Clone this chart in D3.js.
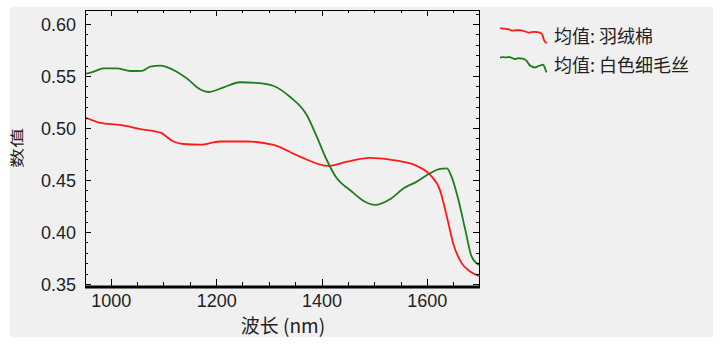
<!DOCTYPE html>
<html>
<head>
<meta charset="utf-8">
<script src="https://cdn.jsdelivr.net/npm/d3@7"></script>
<style>
  body { margin: 0; background: #fff; }
  svg { display: block; font-family: "Noto Sans CJK SC", "Noto Sans", sans-serif; }
</style>
</head>
<body>
<div id="chart"></div>
<script>
/* DATA */
const seriesNames = ["均值: 羽绒棉", "均值: 白色细毛丝"];
const seriesColors = ["#ff1a1a", "#1e7d1e"];

const redWl = [951, 980, 1018, 1056, 1094, 1119, 1138, 1170, 1207, 1258, 1309, 1359, 1413, 1448, 1492, 1543, 1581, 1606, 1625, 1638, 1650, 1666, 1682, 1699];
const redVal = [0.510, 0.505, 0.503, 0.499, 0.4955, 0.487, 0.4846, 0.484, 0.487, 0.487, 0.4837, 0.4724, 0.4635, 0.4676, 0.4712, 0.4686, 0.4635, 0.455, 0.440, 0.4147, 0.389, 0.370, 0.362, 0.3577];

const greenWl = [951, 966, 986, 1011, 1037, 1059, 1075, 1094, 1119, 1144, 1170, 1185, 1214, 1245, 1277, 1309, 1340, 1372, 1391, 1410, 1429, 1454, 1480, 1502, 1530, 1556, 1581, 1606, 1625, 1638, 1647, 1660, 1673, 1685, 1699];
const greenVal = [0.552, 0.554, 0.5574, 0.5574, 0.5548, 0.555, 0.559, 0.560, 0.5558, 0.5478, 0.537, 0.5346, 0.539, 0.544, 0.5433, 0.5404, 0.530, 0.5125, 0.4917, 0.4692, 0.4516, 0.4404, 0.4298, 0.426, 0.4314, 0.442, 0.4484, 0.4564, 0.4606, 0.4612, 0.453, 0.4308, 0.402, 0.3763, 0.3683];

const xTicks = [1000, 1200, 1400, 1600];
const yTicks = [0.35, 0.40, 0.45, 0.50, 0.55, 0.60];

/* CONSTANTS */
const width = 721, height = 347;
const plot = { left: 85, right: 479, top: 10, bottom: 286 };

const svg = d3.select("#chart").append("svg")
  .attr("width", width)
  .attr("height", height);

// gray panel
svg.append("rect")
  .attr("x", 10).attr("y", 7)
  .attr("width", 703).attr("height", 330)
  .attr("fill", "#f0f0f0");

const xScale = d3.scaleLinear().domain([951, 1699]).range([plot.left, plot.right]);
const yScale = d3.scaleLinear().domain([0.348, 0.6135]).range([plot.bottom, plot.top]);

// clip
svg.append("clipPath").attr("id", "clip")
  .append("rect")
  .attr("x", plot.left).attr("y", plot.top)
  .attr("width", plot.right - plot.left).attr("height", plot.bottom - plot.top);

const line = d3.line()
  .x(d => xScale(d[0]))
  .y(d => yScale(d[1]))
  .curve(d3.curveMonotoneX);

const series = [
  d3.zip(redWl, redVal),
  d3.zip(greenWl, greenVal)
];

svg.append("g").attr("clip-path", "url(#clip)")
  .selectAll("path")
  .data(series)
  .join("path")
  .attr("d", line)
  .attr("fill", "none")
  .attr("stroke", (d, i) => seriesColors[i])
  .attr("stroke-width", 1.8);

// axes (ticks inward)
const xMinor = d3.range(1000, 1700, 50);
const yMinor = d3.range(0.35, 0.6101, 0.01);

const axisBottom = d3.axisBottom(xScale).tickValues(xTicks).tickSize(0).tickPadding(8).tickFormat(d3.format("d"));
const axisLeft = d3.axisLeft(yScale).tickValues(yTicks).tickSize(0).tickPadding(9).tickFormat(d3.format(".2f"));

const gx = svg.append("g")
  .attr("transform", `translate(0, ${plot.bottom})`)
  .call(axisBottom);
gx.select(".domain").remove();
gx.selectAll("text").attr("font-size", 18).attr("fill", "#222");

const gy = svg.append("g")
  .attr("transform", `translate(${plot.left}, 0)`)
  .call(axisLeft);
gy.select(".domain").remove();
gy.selectAll("text").attr("font-size", 18).attr("fill", "#222").attr("dy", "0.35em");

const tickG = svg.append("g").attr("stroke", "#000").attr("stroke-width", 1);
const isMajorX = v => v % 200 === 0;
const isMajorY = v => Math.abs(Math.round(v * 100) % 5) === 0;

xMinor.forEach(v => {
  const x = Math.round(xScale(v)) + 0.5;
  const len = isMajorX(v) ? 6 : 3;
  tickG.append("line").attr("x1", x).attr("x2", x).attr("y1", plot.bottom).attr("y2", plot.bottom - len - 1);
  tickG.append("line").attr("x1", x).attr("x2", x).attr("y1", plot.top).attr("y2", plot.top + len);
});
yMinor.forEach(v => {
  const y = Math.round(yScale(v)) + 0.5;
  const len = isMajorY(v) ? 6 : 3;
  tickG.append("line").attr("y1", y).attr("y2", y).attr("x1", plot.left).attr("x2", plot.left + len);
  tickG.append("line").attr("y1", y).attr("y2", y).attr("x1", plot.right).attr("x2", plot.right - len);
});

// frame
svg.append("rect")
  .attr("x", plot.left + 0.5).attr("y", plot.top + 0.5)
  .attr("width", plot.right - plot.left).attr("height", plot.bottom - plot.top)
  .attr("fill", "none").attr("stroke", "#000");
svg.append("line")
  .attr("x1", plot.left).attr("x2", plot.right + 1)
  .attr("y1", plot.bottom + 1).attr("y2", plot.bottom + 1)
  .attr("stroke", "#000").attr("stroke-width", 3);

// axis titles
svg.append("text")
  .attr("x", 283)
  .attr("y", 333)
  .attr("text-anchor", "middle")
  .attr("font-size", 19)
  .attr("fill", "#222")
  .text("波长 (nm)");

svg.append("text")
  .attr("transform", `translate(22, 148) rotate(-90)`)
  .attr("text-anchor", "middle")
  .attr("font-size", 14)
  .attr("textLength", 40)
  .attr("lengthAdjust", "spacingAndGlyphs")
  .attr("fill", "#222")
  .text("数值");

// legend: small copies of each series as the swatch
const legend = svg.append("g").attr("transform", "translate(500, 0)");
const swatchX = d3.scaleLinear().domain([951, 1699]).range([0, 47]);
const swatchY = [
  d3.scaleLinear().domain([0.3577, 0.510]).range([15, 0]),
  d3.scaleLinear().domain([0.3683, 0.560]).range([15, 0])
];
const swatchTop = [28, 57];

series.forEach((s, i) => {
  const g = legend.append("g").attr("transform", `translate(0, ${swatchTop[i]})`);
  g.append("path")
    .datum(s)
    .attr("d", d3.line().x(d => swatchX(d[0])).y(d => swatchY[i](d[1])).curve(d3.curveMonotoneX))
    .attr("fill", "none")
    .attr("stroke", seriesColors[i])
    .attr("stroke-width", 1.8);
  legend.append("text")
    .attr("x", 54)
    .attr("y", swatchTop[i] + 9)
    .attr("dy", "0.35em")
    .attr("font-size", 18)
    .attr("fill", "#222")
    .text(seriesNames[i]);
});
</script>
</body>
</html>
